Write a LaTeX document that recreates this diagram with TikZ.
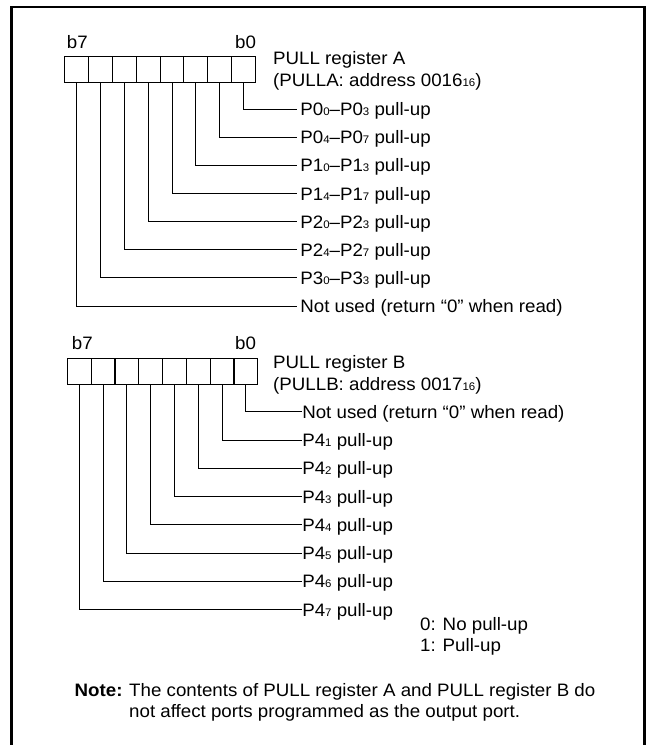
\documentclass[tikz,border=0pt]{standalone}
\usepackage{fontspec}
\setmainfont{Liberation Sans}[FakeStretch=1.04]
\newcommand{\sbs}[1]{{\fontsize{11}{11}\selectfont #1}}
\begin{document}
\begin{tikzpicture}[x=1pt,y=-1pt,
  cell/.style={draw, line width=0.9pt, minimum width=23.9pt, minimum height=26.3pt, inner sep=0pt, outer sep=0pt},
  wire/.style={line width=0.9pt},
  lbla/.style={anchor=west, inner xsep=3.5pt, inner ysep=0pt, text height=12.9pt, text depth=0pt, font=\fontsize{18}{22}\selectfont},
  lblb/.style={lbla, inner xsep=0.4pt},
  txt/.style={anchor=base west, inner sep=0pt, font=\fontsize{18}{22}\selectfont},
  frame/.style={line width=2.4pt}]
\useasboundingbox (0,0) rectangle (647,745);
\draw[frame] (11.5,746) -- (11.5,6.7) -- (644.3,6.7) -- (644.3,746);

% Register A
\node[txt] (ab7) at (66.7,48) {b7};
\node[txt] (ab0) at (235,48) {b0};
\node[txt] (ta1) at (273,64.4) {PULL register A};
\node[txt] (ta2) at (273,86.4) {(PULLA: address 0016\sbs{16})};
\foreach \b in {0,...,7}
  \node[cell] (a\b) at ({64.3+(7.5-\b)*23.925},69.7) {};
\node[lbla] (la0) at (296.7,109.3) {P0\sbs{0}–P0\sbs{3} pull-up};
\node[lbla] (la1) at (296.7,137.4) {P0\sbs{4}–P0\sbs{7} pull-up};
\node[lbla] (la2) at (296.7,165.5) {P1\sbs{0}–P1\sbs{3} pull-up};
\node[lbla] (la3) at (296.7,193.6) {P1\sbs{4}–P1\sbs{7} pull-up};
\node[lbla] (la4) at (296.7,221.7) {P2\sbs{0}–P2\sbs{3} pull-up};
\node[lbla] (la5) at (296.7,249.8) {P2\sbs{4}–P2\sbs{7} pull-up};
\node[lbla] (la6) at (296.7,277.9) {P3\sbs{0}–P3\sbs{3} pull-up};
\node[lbla] (la7) at (296.7,306.0) {Not used (return “0” when read)};
\foreach \b in {0,...,7}
  \draw[wire] (a\b.south) |- (la\b.west);

% Register B
\node[txt] (bb7) at (71.7,349.5) {b7};
\node[txt] (bb0) at (235,349.5) {b0};
\node[txt] (tb1) at (273,368) {PULL register B};
\node[txt] (tb2) at (273,390) {(PULLB: address 0017\sbs{16})};
\foreach \b in {0,...,7}
  \node[cell] (c\b) at ({67.3+(7.5-\b)*23.8},371.7) {};
\node[lblb] (lb0) at (301.7,411.7) {Not used (return “0” when read)};
\node[lblb] (lb1) at (301.7,440.0) {P4\sbs{1} pull-up};
\node[lblb] (lb2) at (301.7,468.3) {P4\sbs{2} pull-up};
\node[lblb] (lb3) at (301.7,496.6) {P4\sbs{3} pull-up};
\node[lblb] (lb4) at (301.7,524.9) {P4\sbs{4} pull-up};
\node[lblb] (lb5) at (301.7,553.2) {P4\sbs{5} pull-up};
\node[lblb] (lb6) at (301.7,581.5) {P4\sbs{6} pull-up};
\node[lblb] (lb7) at (301.7,609.8) {P4\sbs{7} pull-up};
\foreach \b in {0,...,7}
  \draw[wire] (c\b.south) |- (lb\b.west);

% Legend
\node[txt] (lg0) at (420,630.5) {0: No pull-up};
\node[txt] (lg1) at (420,651.5) {1: Pull-up};

% Note
\node[txt] (nt0) at (74.5,696.5) {\bfseries Note:};
\node[txt] (nt1) at (129,696.5) {The contents of PULL register A and PULL register B do};
\node[txt] (nt2) at (129,717) {not affect ports programmed as the output port.};
\end{tikzpicture}
\end{document}
